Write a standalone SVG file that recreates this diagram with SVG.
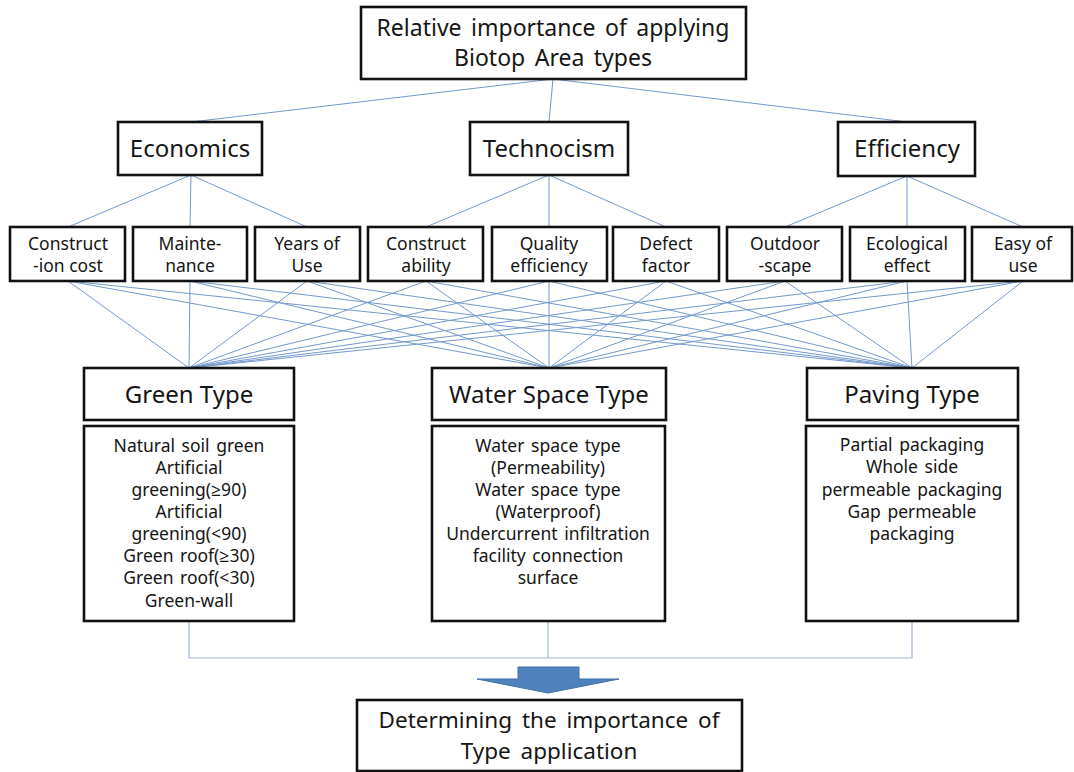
<svg xmlns="http://www.w3.org/2000/svg" width="1074" height="772" viewBox="0 0 1074 772">
<style>
.box{fill:#fff;stroke:#111;stroke-width:2.6}
.lnk{stroke:#7399cc;stroke-width:1;fill:none}
.lnk2{stroke:#9db8dc;stroke-width:1.2;fill:none}
text{font-family:"Noto Sans","Open Sans","DejaVu Sans",sans-serif;fill:#151515;text-anchor:middle}
.big{font-size:23px;word-spacing:3.5px}
.fin{font-size:22.5px;word-spacing:4px}
.crit{font-size:24px}
.sub{font-size:17.5px}
.det{font-size:17.5px;word-spacing:2px}
</style>
<rect width="1074" height="772" fill="#fff"/>
<g id="connectors">
<path class="lnk" d="M553 79L191 122M553 79L549 122M553 79L907 122"/>
<path class="lnk" d="M191 175L68 227M191 175L190 227M191 175L307 227"/>
<path class="lnk" d="M549 175L426 227M549 175L549 227M549 175L666 227"/>
<path class="lnk" d="M907 176L785 227M907 176L907 227M907 176L1023 227"/>
<path class="lnk" d="M68 281L189 368M68 281L549 368M68 281L912 368
M190 281L189 368M190 281L549 368M190 281L912 368
M307 281L189 368M307 281L549 368M307 281L912 368
M426 281L189 368M426 281L549 368M426 281L912 368
M549 281L189 368M549 281L549 368M549 281L912 368
M666 281L189 368M666 281L549 368M666 281L912 368
M785 281L189 368M785 281L549 368M785 281L912 368
M907 281L189 368M907 281L549 368M907 281L912 368
M1023 281L189 368M1023 281L549 368M1023 281L912 368"/>
<path class="lnk2" d="M189 621V658H912V621M548 621V658"/>
</g>
<g id="goal">
<rect class="box" x="361" y="7" width="385" height="72"/>
<text class="big" x="553" y="36">Relative importance of applying</text>
<text class="big" x="553" y="66">Biotop Area types</text>
</g>
<g id="economics">
<rect class="box" x="118" y="122" width="144" height="53"/>
<text class="crit" x="190" y="157">Economics</text>
</g>
<g id="technocism">
<rect class="box" x="470" y="122" width="158" height="53"/>
<text class="crit" x="549" y="157">Technocism</text>
</g>
<g id="efficiency">
<rect class="box" x="838" y="122" width="137" height="54"/>
<text class="crit" x="907" y="157">Efficiency</text>
</g>
<g id="construction-cost">
<rect class="box" x="10" y="227" width="115" height="54"/>
<text class="sub" x="68" y="250">Construct</text>
<text class="sub" x="68" y="272">-ion cost</text>
</g>
<g id="maintenance">
<rect class="box" x="133" y="227" width="114" height="54"/>
<text class="sub" x="190" y="250">Mainte-</text>
<text class="sub" x="190" y="272">nance</text>
</g>
<g id="years-of-use">
<rect class="box" x="255" y="227" width="105" height="54"/>
<text class="sub" x="307" y="250">Years of</text>
<text class="sub" x="307" y="272">Use</text>
</g>
<g id="constructability">
<rect class="box" x="368" y="227" width="115" height="54"/>
<text class="sub" x="426" y="250">Construct</text>
<text class="sub" x="426" y="272">ability</text>
</g>
<g id="quality-efficiency">
<rect class="box" x="492" y="227" width="115" height="54"/>
<text class="sub" x="549" y="250">Quality</text>
<text class="sub" x="549" y="272">efficiency</text>
</g>
<g id="defect-factor">
<rect class="box" x="613" y="227" width="106" height="54"/>
<text class="sub" x="666" y="250">Defect</text>
<text class="sub" x="666" y="272">factor</text>
</g>
<g id="outdoor-scape">
<rect class="box" x="727" y="227" width="115" height="54"/>
<text class="sub" x="785" y="250">Outdoor</text>
<text class="sub" x="785" y="272">-scape</text>
</g>
<g id="ecological-effect">
<rect class="box" x="850" y="227" width="115" height="54"/>
<text class="sub" x="907" y="250">Ecological</text>
<text class="sub" x="907" y="272">effect</text>
</g>
<g id="easy-of-use">
<rect class="box" x="972" y="227" width="100" height="54"/>
<text class="sub" x="1023" y="250">Easy of</text>
<text class="sub" x="1023" y="272">use</text>
</g>
<g id="green-type">
<rect class="box" x="84" y="368" width="210" height="52"/>
<text class="crit" x="189" y="403">Green Type</text>
<rect class="box" x="84" y="426" width="210" height="195"/>
<text class="det" x="189" y="452">Natural soil green</text>
<text class="det" x="189" y="474">Artificial</text>
<text class="det" x="189" y="496">greening(≥90)</text>
<text class="det" x="189" y="518">Artificial</text>
<text class="det" x="189" y="540">greening(&lt;90)</text>
<text class="det" x="189" y="562">Green roof(≥30)</text>
<text class="det" x="189" y="584">Green roof(&lt;30)</text>
<text class="det" x="189" y="607">Green-wall</text>
</g>
<g id="water-space-type">
<rect class="box" x="432" y="368" width="234" height="52"/>
<text class="crit" x="549" y="403">Water Space Type</text>
<rect class="box" x="432" y="426" width="233" height="195"/>
<text class="det" x="548" y="452">Water space type</text>
<text class="det" x="548" y="474">(Permeability)</text>
<text class="det" x="548" y="496">Water space type</text>
<text class="det" x="548" y="518">(Waterproof)</text>
<text class="det" x="548" y="540">Undercurrent infiltration</text>
<text class="det" x="548" y="562">facility connection</text>
<text class="det" x="548" y="584">surface</text>
</g>
<g id="paving-type">
<rect class="box" x="807" y="368" width="211" height="52"/>
<text class="crit" x="912" y="403">Paving Type</text>
<rect class="box" x="806" y="426" width="212" height="195"/>
<text class="det" x="912" y="451">Partial packaging</text>
<text class="det" x="912" y="473">Whole side</text>
<text class="det" x="912" y="496">permeable packaging</text>
<text class="det" x="912" y="518">Gap permeable</text>
<text class="det" x="912" y="540">packaging</text>
</g>
<g id="arrow">
<polygon points="518,667 579,667 579,679 619,679 548,693 477,679 518,679" fill="#4f81bd" stroke="#3f6fa6" stroke-width="1"/>
</g>
<g id="result">
<rect class="box" x="357" y="700" width="385" height="71"/>
<text class="fin" x="549" y="728">Determining the importance of</text>
<text class="fin" x="549" y="759">Type application</text>
</g>
</svg>
